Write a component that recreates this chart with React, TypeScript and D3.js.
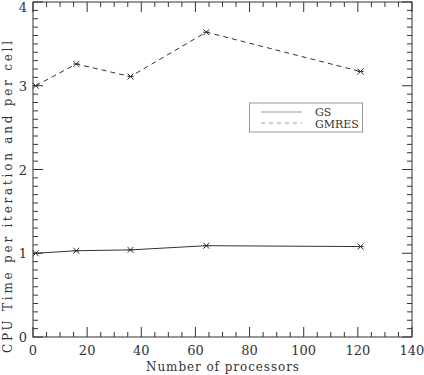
import React from 'react';
import * as d3 from 'd3';

// readings
const processors = [1, 16, 36, 64, 121];
const gsTimes = [1.0, 1.03, 1.04, 1.09, 1.08];
const gmresTimes = [3.0, 3.26, 3.11, 3.64, 3.17];
const seriesNames = ['GS', 'GMRES'];
const xTicks = [0, 20, 40, 60, 80, 100, 120, 140];
const yTicks = [0, 1, 2, 3, 4];

const W = 424;
const H = 375;
const plot = { left: 33, right: 412, top: 2, bottom: 337 };
const ink = '#333';
const serif = { fontFamily: 'DejaVu Serif' };

// IDL style asterisk marker
const Star = ({ x, y }: { x: number; y: number }) => {
  const s = 3;
  return (
    <g stroke={ink} strokeWidth={1}>
      <line x1={x - s} y1={y - s} x2={x + s} y2={y + s} />
      <line x1={x - s} y1={y + s} x2={x + s} y2={y - s} />
      <line x1={x - s} y1={y} x2={x + s} y2={y} />
    </g>
  );
};

export default function App() {
  const x = d3.scaleLinear().domain([0, 140]).range([plot.left, plot.right]);
  const y = d3.scaleLinear().domain([0, 4]).range([plot.bottom, plot.top]);

  const line = d3
    .line<number>()
    .x((d, i) => x(processors[i]))
    .y((d) => y(d));

  const xMinor = d3.range(0, 140.01, 5);
  const yMinor = d3.range(0, 4.001, 0.1);

  return (
    <svg
      width={W}
      height={H}
      style={{ position: 'absolute', left: 0, top: 0, background: '#fff' }}
    >
      <rect
        x={plot.left}
        y={plot.top}
        width={plot.right - plot.left}
        height={plot.bottom - plot.top}
        fill="none"
        stroke={ink}
      />

      {/* x ticks, bottom and top, pointing inward */}
      {xMinor.map((v) => {
        const major = Math.abs(v % 20) < 1e-6;
        const len = major ? 10 : 5;
        return (
          <g key={'xt' + v} stroke={ink}>
            <line x1={x(v)} x2={x(v)} y1={plot.bottom} y2={plot.bottom - len} />
            <line x1={x(v)} x2={x(v)} y1={plot.top} y2={plot.top + len} />
          </g>
        );
      })}
      {/* y ticks, left and right */}
      {yMinor.map((v, i) => {
        const major = i % 10 === 0;
        const len = major ? 10 : 5;
        return (
          <g key={'yt' + i} stroke={ink}>
            <line x1={plot.left} x2={plot.left + len} y1={y(v)} y2={y(v)} />
            <line x1={plot.right} x2={plot.right - len} y1={y(v)} y2={y(v)} />
          </g>
        );
      })}

      {xTicks.map((v) => (
        <text key={'xl' + v} x={x(v)} y={355} textAnchor="middle" fontSize={13} fill={ink} style={serif}>
          {v}
        </text>
      ))}
      {yTicks.map((v) => (
        <text
          key={'yl' + v}
          x={27}
          y={Math.max(y(v) + 5, 12)}
          textAnchor="end"
          fontSize={13}
          fill={ink}
          style={serif}
        >
          {v}
        </text>
      ))}

      <text
        x={222.5}
        y={371}
        textAnchor="middle"
        fontSize={12}
        fill={ink}
        style={serif}
        textLength={153}
        lengthAdjust="spacing"
      >
        Number of processors
      </text>
      <text
        transform="translate(12,197) rotate(-90)"
        textAnchor="middle"
        fontSize={12}
        fill={ink}
        style={serif}
        textLength={312}
        lengthAdjust="spacing"
      >
        CPU Time per iteration and per cell
      </text>

      <path d={line(gsTimes) || ''} fill="none" stroke={ink} strokeWidth={1} />
      <path
        d={line(gmresTimes) || ''}
        fill="none"
        stroke={ink}
        strokeWidth={1}
        strokeDasharray="5,4"
      />
      {processors.map((p, i) => (
        <Star key={'g' + i} x={x(p)} y={y(gsTimes[i])} />
      ))}
      {processors.map((p, i) => (
        <Star key={'m' + i} x={x(p)} y={y(gmresTimes[i])} />
      ))}

      {/* legend */}
      <rect x={249.5} y={103} width={113} height={29} fill="#fff" stroke="#999" />
      <line x1={261} x2={302} y1={112} y2={112} stroke="#999" />
      <line x1={261} x2={302} y1={123} y2={123} stroke="#999" strokeDasharray="4,4" />
      <text x={315} y={115.5} fontSize={11} fill={ink} style={serif}>
        {seriesNames[0]}
      </text>
      <text x={315} y={127.5} fontSize={11} fill={ink} style={serif}>
        {seriesNames[1]}
      </text>
    </svg>
  );
}
